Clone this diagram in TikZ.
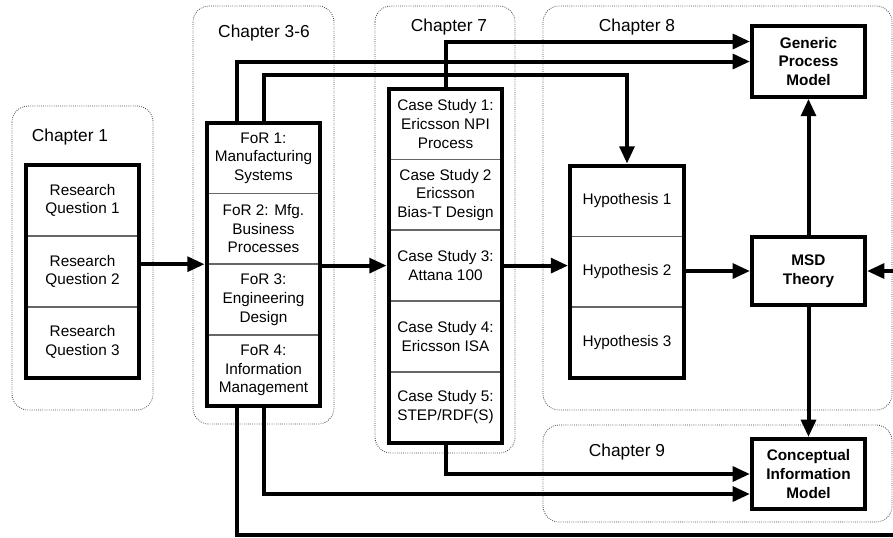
\documentclass[tikz,border=0pt]{standalone}
\usepackage{fontspec}
\setmainfont{Liberation Sans}
\usetikzlibrary{positioning,arrows.meta,fit}

\begin{document}
\begin{tikzpicture}[x=0.75pt, y=-0.75pt,
      every node/.style={align=center, font=\fontsize{11.5}{14}\selectfont},
      cell/.style={draw=black!60, line width=0.6pt, minimum width=84.75pt,
                   minimum height=52.5pt, inner sep=1pt},
      stack/.style={draw, line width=3pt, inner sep=0pt},
      model/.style={draw, line width=3pt, minimum width=84.75pt, minimum height=#1,
                    font=\fontsize{11.5}{14}\selectfont\bfseries},
      chap/.style={draw=black!75, densely dotted, line width=0.6pt, rounded corners=12pt},
      chaplabel/.style={font=\fontsize{13}{15}\selectfont},
      conn/.style={line width=3pt, -{Triangle[length=13pt,width=11pt]}}]
    \useasboundingbox (0,0) rectangle (893,537);
    \clip (0,0) rectangle (893,537);
    % chapter frames
    \draw[chap] (12,106) rectangle (153,410);
    \draw[chap] (193,6) rectangle (334,424);
    \draw[chap] (375,6) rectangle (515,453);
    \draw[chap] (543,6) rectangle (892,410);
    \draw[chap] (543,425) rectangle (892,522);
    \node[chaplabel] (ch1) at (70,137) {Chapter 1};
    \node[chaplabel] (ch36) at (264,33) {Chapter 3-6};
    \node[chaplabel] (ch7) at (449,27) {Chapter 7};
    \node[chaplabel] (ch8) at (637,27) {Chapter 8};
    \node[chaplabel] (ch9) at (627,452) {Chapter 9};
    % research questions
    \node[cell] (rq1) at (82.5,200.5) {Research\\Question 1};
    \node[cell, below=0pt of rq1] (rq2) {Research\\Question 2};
    \node[cell, below=0pt of rq2] (rq3) {Research\\Question 3};
    \node[stack, fit=(rq1)(rq3)] (rq) {};
    % fields of research
    \node[cell] (for1) at (263.5,158) {FoR 1:\\Manufacturing\\Systems};
    \node[cell, below=0pt of for1] (for2) {FoR 2: Mfg.\\Business\\Processes};
    \node[cell, below=0pt of for2] (for3) {FoR 3:\\Engineering\\Design};
    \node[cell, below=0pt of for3] (for4) {FoR 4:\\Information\\Management};
    \node[stack, fit=(for1)(for4)] (for) {};
    % case studies
    \node[cell] (cs1) at (445.5,124) {Case Study 1:\\Ericsson NPI\\Process};
    \node[cell, below=0pt of cs1] (cs2) {Case Study 2\\Ericsson\\Bias-T Design};
    \node[cell, below=0pt of cs2] (cs3) {Case Study 3:\\Attana 100};
    \node[cell, below=0pt of cs3] (cs4) {Case Study 4:\\Ericsson ISA};
    \node[cell, below=0pt of cs4] (cs5) {Case Study 5:\\STEP/RDF(S)};
    \node[stack, fit=(cs1)(cs5)] (cs) {};
    % hypotheses
    \node[cell] (hyp1) at (627,201) {Hypothesis 1};
    \node[cell, below=0pt of hyp1] (hyp2) {Hypothesis 2};
    \node[cell, below=0pt of hyp2] (hyp3) {Hypothesis 3};
    \node[stack, fit=(hyp1)(hyp3)] (hyp) {};
    % models
    \node[model=53pt] (gpm) at (808.5,61.5) {Generic\\Process\\Model};
    \node[model=51pt] (msd) at (808.5,271) {MSD\\Theory};
    \node[model=52.5pt] (cim) at (808.5,474) {Conceptual\\Information\\Model};
    % connectors
    \draw[conn] (rq.east |- for2.south) -- (for.west |- for2.south);
    \draw[conn] (for.east |- cs3.west) -- (cs.west |- cs3.west);
    \draw[conn] (cs.east |- cs3.east) -- (hyp.west |- cs3.east);
    \draw[conn] (hyp.east |- msd.west) -- (msd.west);
    \draw[conn] (msd) -- (gpm);
    \draw[conn] (msd) -- (cim);
    \draw[conn] (cs.north) |- ([yshift=15pt]gpm.west);
    \draw[conn] ([xshift=-20pt]for.north) |- (gpm.west);
    \draw[conn] (for.north) -- ++(0,-46) -| (hyp.north);
    \draw[conn] (cs.south) |- (cim.west);
    \draw[conn] (for.south) |- ([yshift=-15pt]cim.west);
    \draw[conn] ([xshift=-20pt]for.south) |- (915,535) |- (msd.east);
  \end{tikzpicture}
\end{document}
